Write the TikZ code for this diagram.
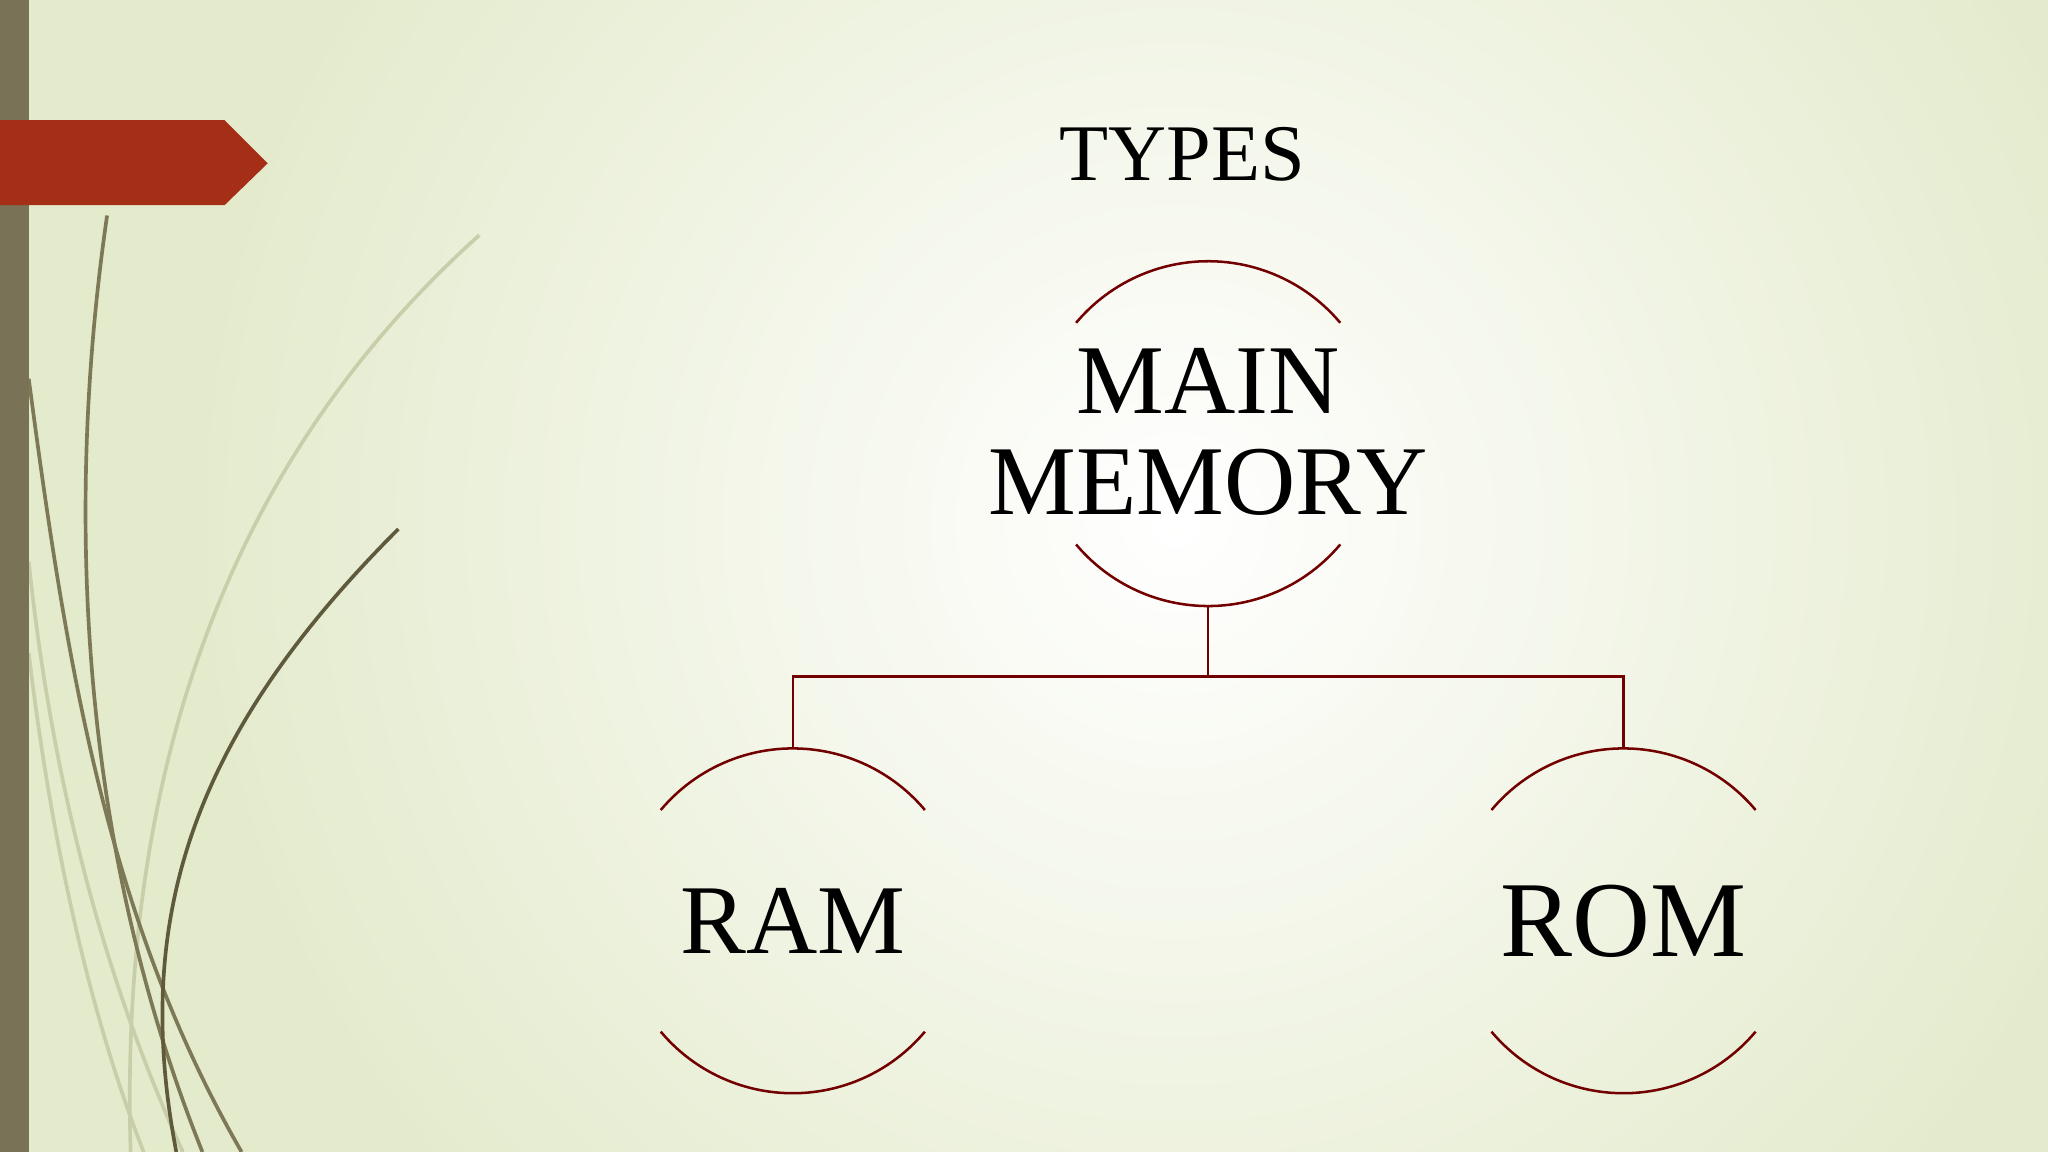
\documentclass[tikz,border=0pt]{standalone}
\usepackage{fontspec}
\setmainfont{Liberation Serif}
\begin{document}
\begin{tikzpicture}[x=0.02cm,y=-0.02cm,
  arcline/.style={draw=red!45!black, line width=1.1pt},
  conn/.style={draw=red!45!black, line width=1.1pt},
  grass/.style={line width=1.6pt, draw={rgb,255:red,125;green,120;blue,85}},
  lgrass/.style={line width=1.6pt, draw={rgb,255:red,200;green,206;blue,170}}]
\useasboundingbox (0,0) rectangle (1568,882);
\fill[color={rgb,255:red,228;green,235;blue,205}] (0,0) rectangle (1568,882);
\shade[inner color=white, outer color={rgb,255:red,228;green,235;blue,205}] (150,-350) rectangle (1650,1150);
% grass
\draw[lgrass] (367,180) .. controls (200,330) and (90,550) .. (100,882);
\draw[lgrass] (22,430) .. controls (40,600) and (80,750) .. (140,882);
\draw[lgrass] (22,500) .. controls (40,650) and (70,780) .. (110,882);
\draw[grass] (82,165) .. controls (55,350) and (50,620) .. (155,882);
\draw[grass] (22,290) .. controls (50,500) and (80,700) .. (185,882);
\draw[grass,draw={rgb,255:red,95;green,90;blue,60}] (305,405) .. controls (150,560) and (100,700) .. (135,882);
\fill[color={rgb,255:red,122;green,114;blue,86}] (0,0) rectangle (22,882);
\fill[color={rgb,255:red,165;green,47;blue,22}] (0,92) -- (172,92) -- (205,125) -- (172,157) -- (0,157) -- cycle;
% text
\node[font=\fontsize{35}{36}\selectfont] (types) at (905,118) {TYPES};
\coordinate (mc) at (925,332);
\coordinate (ramc) at (607,705);
\coordinate (romc) at (1243,705);
\draw[arcline] (mc) ++(40:132) arc (40:140:132);
\draw[arcline] (mc) ++(220:132) arc (220:320:132);
\draw[arcline] (ramc) ++(40:132) arc (40:140:132);
\draw[arcline] (ramc) ++(220:132) arc (220:320:132);
\draw[arcline] (romc) ++(40:132) arc (40:140:132);
\draw[arcline] (romc) ++(220:132) arc (220:320:132);
\node[font=\fontsize{43}{44}\selectfont, align=center] (main) at (925,331) {MAIN\\MEMORY};
\node[font=\fontsize{43}{44}\selectfont] (ram) at (607,705) {RAM};
\node[font=\fontsize{47}{48}\selectfont] (rom) at (1243,705) {ROM};
\coordinate (mb) at (925,463);
\coordinate (rt) at (607,573);
\coordinate (ot) at (1243,573);
\draw[conn] (mb) -- (925,518) -| (rt);
\draw[conn] (925,518) -| (ot);
\end{tikzpicture}
\end{document}
